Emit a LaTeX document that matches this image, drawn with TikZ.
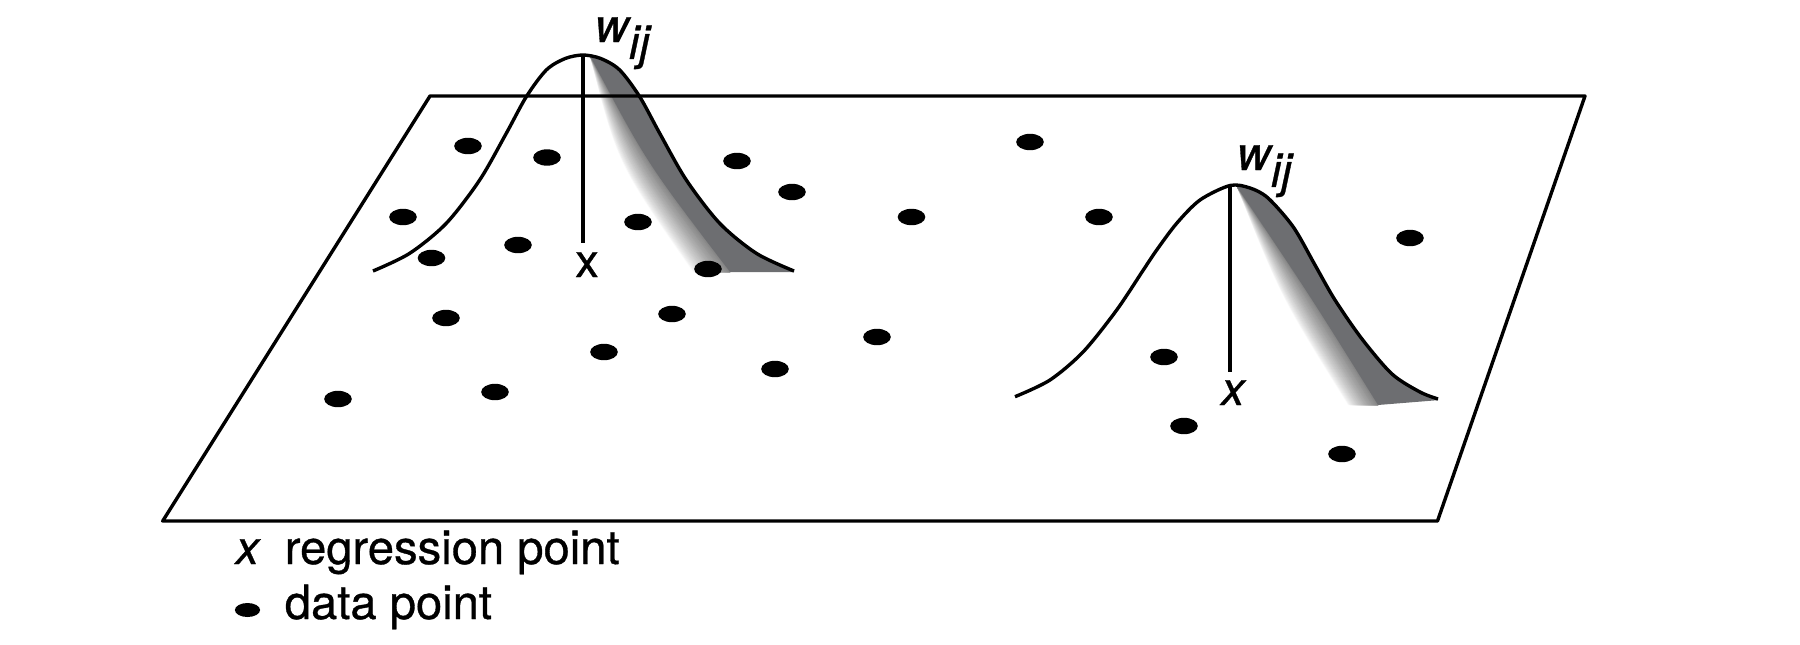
\documentclass[tikz,border=0pt]{standalone}
\usepackage{fontspec}
\setmainfont{TeX Gyre Heros}[FakeBold=0.7]
\usetikzlibrary{shapes.geometric}
\definecolor{kdark}{RGB}{109,110,113}
\begin{document}
\begin{tikzpicture}[x=0.25pt,y=-0.25pt,
  line/.style={line width=0.85pt, line join=round},
  dot/.style={ellipse, fill=black, inner sep=0pt, minimum width=6.9pt, minimum height=4.1pt},
  lab/.style={inner sep=0pt, font=\fontsize{11.8}{14}\selectfont},
]
\useasboundingbox (0,0) rectangle (1800,644);

% ---------- kernel 1 shading ----------
\begin{scope}
  \clip plot[smooth] coordinates {(373,271) (409.7,253.3) (446.3,223.3) (479.7,180) (506.3,133.3) (526.3,96.7) (546.3,70) (565,58.6) (583,55) (601,58.6) (619.7,70) (639.7,96.7) (659.7,133.3) (686.3,180) (719.7,223.3) (756.3,253.3) (794,271)} -- (794,273) -- (373,273) -- cycle;
  \foreach \i in {0,...,29}{
    \pgfmathsetmacro\ta{\i/30}
    \pgfmathtruncatemacro\k{48*((\i+0.5)/30)^0.75}
    \fill[black!\k!white] (590,56) .. controls ({617+29.7*\ta},163) .. ({693+37*\ta},272) -- (730,272) .. controls (646.7,163) .. (590,56) -- cycle;
  }
  \fill[kdark] (590,56) .. controls (646.7,163) .. (730,272) -- (800,272) -- (820,30) -- (590,30) -- cycle;
\end{scope}

% ---------- kernel 2 shading ----------
\begin{scope}
  \clip plot[smooth] coordinates {(1015,396.7) (1050,380) (1083.3,351.7) (1116.7,310) (1143.3,270) (1156.7,250) (1176.7,223.3) (1200,200) (1230,185.5) (1250,188) (1268,198) (1293.3,227) (1315,265) (1335,300) (1362,339) (1392,374) (1420,392) (1438,399)} -- (1438,406) -- (1015,406) -- cycle;
  \foreach \i in {0,...,29}{
    \pgfmathsetmacro\ta{\i/30}
    \pgfmathtruncatemacro\k{48*((\i+0.5)/30)^0.75}
    \fill[black!\k!white] (1237,187) .. controls ({1280.7+30.1*\ta},297) .. ({1348+30*\ta},405) -- (1378,405) .. controls (1310.8,297) .. (1237,187) -- cycle;
  }
  \fill[kdark] (1237,187) .. controls (1310.8,297) .. (1378,405) -- (1440,400) -- (1460,150) -- (1237,150) -- cycle;
\end{scope}

% ---------- plane ----------
\draw[line] (430,96) -- (1585,96) -- (1437.5,521) -- (162.7,521) -- cycle;

% ---------- data points ----------
\foreach \xx/\yy [count=\i] in {468/146, 547/157.5, 737/161, 792/192, 1030/142, 403/217, 638/222, 911.5/217, 1099/217, 431.5/258, 518/245, 708/269, 1410/238, 446/318, 672/314, 604/352, 877/337, 775/369, 338/399, 495/392, 1164/357, 1184/426, 1342/454}
  \node[dot] (d\i) at (\xx,\yy) {};

% ---------- kernel curves ----------
\draw[line] plot[smooth] coordinates {(373,271) (409.7,253.3) (446.3,223.3) (479.7,180) (506.3,133.3) (526.3,96.7) (546.3,70) (565,58.6) (583,55) (601,58.6) (619.7,70) (639.7,96.7) (659.7,133.3) (686.3,180) (719.7,223.3) (756.3,253.3) (794,271)};
\draw[line] plot[smooth] coordinates {(1015,396.7) (1050,380) (1083.3,351.7) (1116.7,310) (1143.3,270) (1156.7,250) (1176.7,223.3) (1200,200) (1230,185.5) (1250,188) (1268,198) (1293.3,227) (1315,265) (1335,300) (1362,339) (1392,374) (1420,392) (1438,399)};

\coordinate (p1) at (583,55);
\coordinate (b1) at (583,243);
\coordinate (p2) at (1230,185.5);
\coordinate (b2) at (1230,372);
\draw[line] (p1) -- (b1);
\draw[line] (p2) -- (b2);

% ---------- labels ----------
\node[lab, anchor=base west] (w1) at (594,42) {\itshape w$_{\textit{ij}}$};
\node[lab, anchor=base west] (w2) at (1236,170) {\itshape w$_{\textit{ij}}$};
\node[lab, anchor=base] (x1) at (587,277) {x};
\node[lab, anchor=base] (x2) at (1233,405) {\itshape x};

% ---------- legend ----------
\node[lab, anchor=base] (lx) at (247.5,564) {\itshape x};
\node[lab, anchor=base west] (lt1) at (284,564) {regression point};
\node[dot, minimum width=6.3pt, minimum height=3.5pt] (ld) at (247.5,610) {};
\node[lab, anchor=base west] (lt2) at (284,619) {data point};
\end{tikzpicture}
\end{document}
